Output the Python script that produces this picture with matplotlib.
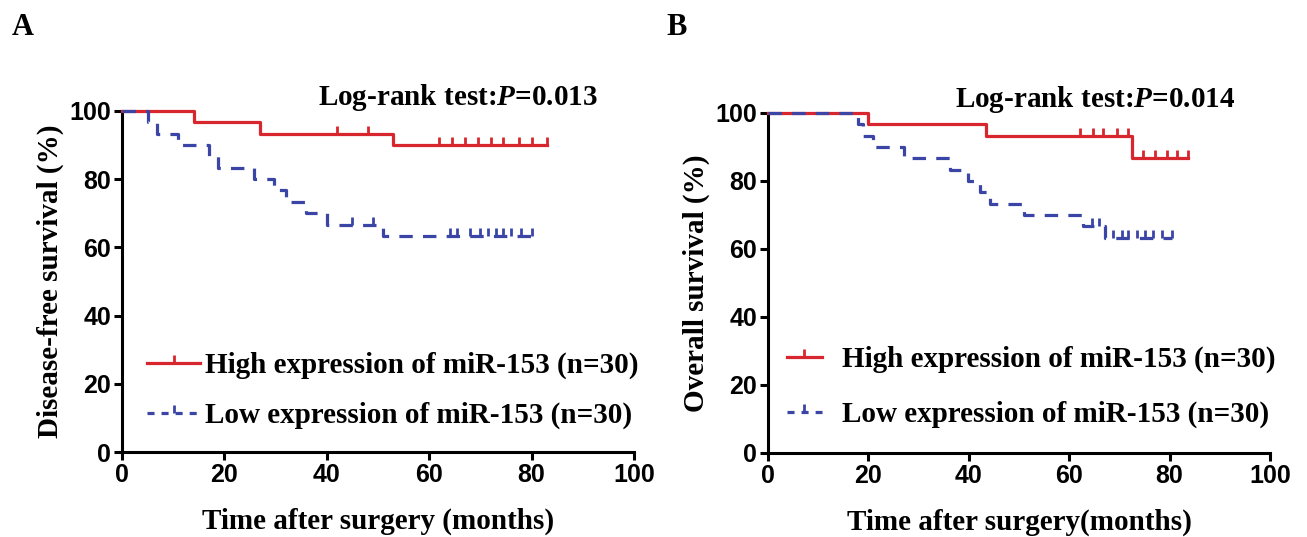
import numpy as np
import matplotlib
matplotlib.use("Agg")
import matplotlib.pyplot as plt
from matplotlib.lines import Line2D

# ---------------- data ----------------
# Panel A: disease-free survival
a_high_t = [0, 14, 27, 53]
a_high_s = [100, 96.7, 93.3, 90.0]
a_high_end = 83
a_high_cens = [42, 48, 62, 64.5, 67, 69.5, 72, 74.5, 77.5, 80, 83]

a_low_t = [0, 5, 6.9, 11, 16.9, 18.8, 25.7, 29.6, 32, 36, 40, 51]
a_low_s = [100, 96.7, 93.3, 90.0, 86.7, 83.3, 80.0, 76.7, 73.3, 70.0, 66.7, 63.3]
a_low_end = 80
a_low_cens = [45, 49, 64, 65.5, 68, 70, 71.5, 73, 74.5, 76, 78, 80]

# Panel B: overall survival
b_high_t = [0, 20, 43.5, 72.5]
b_high_s = [100, 96.7, 93.3, 86.7]
b_high_end = 83.7
b_high_cens = [62.2, 64.7, 66.7, 69.5, 71.7, 74.7, 77, 79.5, 81.5, 83.7]

b_low_t = [0, 18, 19, 21, 27, 36.3, 39.8, 42.2, 44.2, 51, 62.7, 67.1]
b_low_s = [100, 96.7, 93.3, 90.0, 86.7, 83.3, 80.0, 76.7, 73.3, 70.0, 66.7, 63.3]
b_low_end = 80.5
b_low_cens = [64.5, 66, 68.7, 70.5, 71.7, 73.5, 75.1, 76.7, 78.5, 80.5]

xticks = [0, 20, 40, 60, 80, 100]
yticks = [0, 20, 40, 60, 80, 100]
label_high = "High expression of miR-153 (n=30)"
label_low = "Low expression of miR-153 (n=30)"

RED = "#d7262d"
BLUE = "#3a45a6"
SERIF = "Liberation Serif"
SANS = "Liberation Sans"
TICK_FS = 18
FS = 21

plt.rcParams["mathtext.fontset"] = "custom"
plt.rcParams["mathtext.rm"] = "Liberation Serif:bold"
plt.rcParams["mathtext.it"] = "Liberation Serif:bold:italic"
plt.rcParams["mathtext.bf"] = "Liberation Serif:bold"

W, H = 1307, 537
fig = plt.figure(figsize=(W / 100, H / 100), dpi=100)


def px_axes(x0, x1, y0, y1):
    return fig.add_axes([x0 / W, 1 - y1 / H, (x1 - x0) / W, (y1 - y0) / H])


def step_value(t, s, x):
    idx = np.searchsorted(np.asarray(t), x, side="right") - 1
    return np.asarray(s)[idx]


def draw_km(ax, t, s, end, cens, color, ls, z):
    xs = list(t) + [end]
    ys = list(s) + [s[-1]]
    line_kw = dict(color=color, lw=2.3, clip_on=False, zorder=z)
    if ls == "dashed":
        line_kw.update(linestyle=(0, (4.2, 3.2)))
    ax.step(xs, ys, where="post", **line_kw)
    cy = step_value(t, s, np.asarray(cens))
    ax.plot(cens, cy, linestyle="none", marker=2, markersize=5.5,
            markeredgewidth=2.0, color=color, clip_on=False, zorder=z)


def style_axes(ax, ylabel, xlabel):
    ax.set_xlim(0, 100)
    ax.set_ylim(0, 100)
    ax.set_xticks(xticks)
    ax.set_yticks(yticks)
    for side in ("top", "right"):
        ax.spines[side].set_visible(False)
    for side in ("left", "bottom"):
        ax.spines[side].set_linewidth(2.2)
    ax.tick_params(width=2.2, length=6, direction="out", pad=2)
    for lab in ax.get_xticklabels() + ax.get_yticklabels():
        lab.set_fontfamily(SANS)
        lab.set_fontweight("bold")
        lab.set_fontsize(TICK_FS)
    ax.set_ylabel(ylabel, fontfamily=SERIF, fontweight="bold", fontsize=FS, labelpad=4)
    ax.set_xlabel(xlabel, fontfamily=SERIF, fontweight="bold", fontsize=FS, labelpad=15)


def add_legend(ax, x_anchor, y_anchor, hlen, hpad, lspace):
    h1 = Line2D([0], [0], color=RED, lw=2.3, marker=2, markersize=5.5, markeredgewidth=2.0)
    h2 = Line2D([0], [0], color=BLUE, lw=2.3, linestyle=(0, (2.2, 2.2)), marker=2,
                markersize=5.5, markeredgewidth=2.0)
    ax.legend([h1, h2], [label_high, label_low], loc="lower left",
              bbox_to_anchor=(x_anchor, y_anchor), frameon=False, numpoints=1,
              handlelength=hlen, handletextpad=hpad, labelspacing=lspace,
              borderaxespad=0, prop=dict(family=SERIF, weight="bold", size=FS))


# Panel A
axA = px_axes(122, 634, 111, 452)
draw_km(axA, a_high_t, a_high_s, a_high_end, a_high_cens, RED, "solid", 3)
draw_km(axA, a_low_t, a_low_s, a_low_end, a_low_cens, BLUE, "dashed", 4)
style_axes(axA, "Disease-free survival (%)", "Time after surgery (months)")
axA.text(0.383, 1.04, r"Log-rank test:$\mathit{P}$=0.013", transform=axA.transAxes,
         fontfamily=SERIF, fontweight="bold", fontsize=FS, va="center", ha="left")
add_legend(axA, 0.027, 0.032, 1.8, 0.17, 0.78)

# Panel B
axB = px_axes(768, 1270, 113, 453)
draw_km(axB, b_high_t, b_high_s, b_high_end, b_high_cens, RED, "solid", 3)
draw_km(axB, b_low_t, b_low_s, b_low_end, b_low_cens, BLUE, "dashed", 4)
style_axes(axB, "Overall survival (%)", "Time after surgery(months)")
axB.text(0.372, 1.04, r"Log-rank test:$\mathit{P}$=0.014", transform=axB.transAxes,
         fontfamily=SERIF, fontweight="bold", fontsize=FS, va="center", ha="left")
add_legend(axB, 0.014, 0.039, 1.2, 0.7, 0.95)

fig.text(12 / W, 1 - 28 / H, "A", fontfamily=SERIF, fontweight="bold", fontsize=22, va="center")
fig.text(666 / W, 1 - 28 / H, "B", fontfamily=SERIF, fontweight="bold", fontsize=22, va="center")

fig.savefig("out.png", dpi=100)
